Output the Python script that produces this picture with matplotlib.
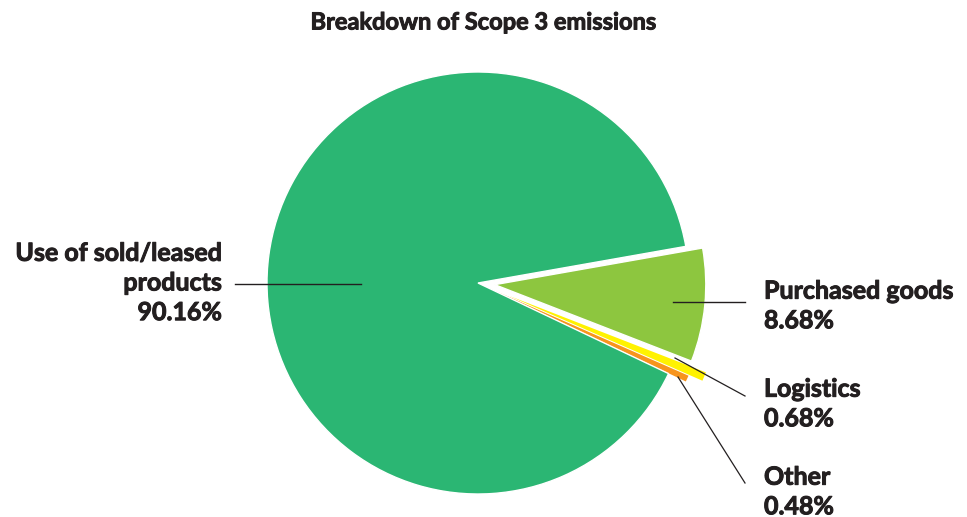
import matplotlib.pyplot as plt
import matplotlib.patheffects as pe

labels = ['Purchased goods', 'Logistics', 'Other', 'Use of sold/leased\nproducts']
shares = [8.68, 0.68, 0.48, 90.16]
colors = ['#8DC63F', '#FFF200', '#F7941D', '#2BB673']
explode = [0.08, 0.16, 0.09, 0.0]

plt.rcParams['font.family'] = ['Lato', 'DejaVu Sans']
txt = '#231F20'
heavy = [pe.withStroke(linewidth=0.7, foreground=txt)]

W, H = 967, 517
fig = plt.figure(figsize=(W / 100, H / 100), dpi=100)
ax = fig.add_axes([0, 0, 1, 1])
ax.set_xlim(0, W)
ax.set_ylim(0, H)
ax.axis('off')

cx, cy, r = 478, H - 283, 211
# explode in pie is in data units, so scale by radius
wedges, _ = ax.pie(shares, colors=colors, explode=[e * r for e in explode], startangle=10,
                   counterclock=False, center=(cx, cy), radius=r,
                   wedgeprops=dict(edgecolor='white', linewidth=1.0))
# thin slices lose too much to the white edge
wedges[1].set_linewidth(0)
wedges[2].set_linewidth(0)
ax.set_xlim(0, W)
ax.set_ylim(0, H)
ax.set_aspect('equal')

fig.text(0.5, 1 - 22 / H, 'Breakdown of Scope 3 emissions', ha='center', va='center',
         fontsize=17, fontweight='bold', color=txt, path_effects=heavy)

fs = 18
# main slice label
ax.plot([235, 361], [H - 284, H - 284], color='#231F20', lw=1)
ax.text(222, H - 283, labels[3] + '\n' + '{:.2f}%'.format(shares[3]), ha='right', va='center',
        fontsize=fs, fontweight='bold', color=txt, linespacing=1.35, path_effects=heavy)

# right side labels
ax.plot([673, 745], [H - 302, H - 302], color='#231F20', lw=1)
ax.plot([675, 745], [H - 358, H - 396], color='#231F20', lw=0.9)
ax.plot([678, 745], [H - 377, H - 483], color='#231F20', lw=0.9)
right_y = [306, 404, 492]
for i in range(3):
    ax.text(764, H - right_y[i], labels[i] + '\n' + '{:.2f}%'.format(shares[i]), ha='left',
            va='center', fontsize=fs, fontweight='bold', color=txt, linespacing=1.35,
            path_effects=heavy)

fig.savefig('out.png', dpi=100)
